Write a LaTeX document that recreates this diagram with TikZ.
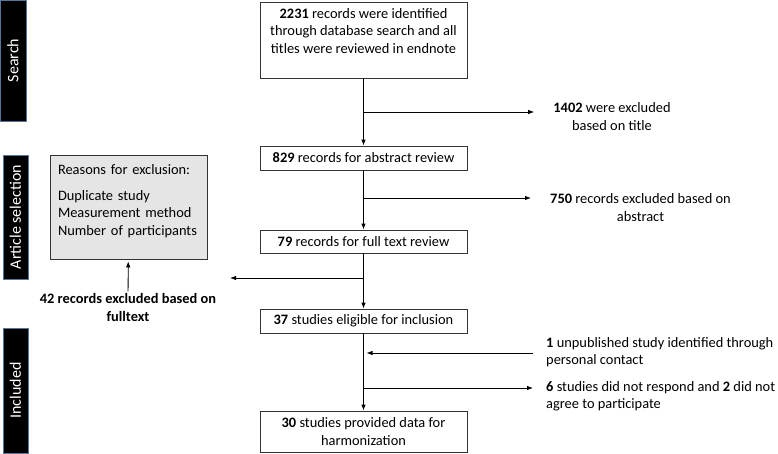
\documentclass[tikz,border=0pt]{standalone}
\usepackage{fontspec}
\setmainfont{Carlito}
\usetikzlibrary{arrows.meta}
\definecolor{barblue}{RGB}{84,118,156}

\begin{document}
\begin{tikzpicture}[x=1pt,y=-1pt,
    font=\fontsize{14.4}{17.5}\selectfont,
    box/.style={draw=black!80,line width=0.8pt,fill=white,minimum width=207pt,inner xsep=8pt,align=center},
    phase/.style={draw=barblue,line width=1pt,fill=black,text=white,rotate=90,font=\fontsize{16}{19}\selectfont},
    note/.style={inner sep=2pt},
    arr/.style={line width=0.8pt,-{Latex[length=6pt,width=4.5pt]}}]

    \useasboundingbox (0,0) rectangle (778,453);

    % Phases
    \node[phase,minimum width=121pt,minimum height=26pt] (search) at (13,60.5) {Search};
    \node[phase,minimum width=124pt,minimum height=25pt] (selection) at (15.5,217) {Article selection};
    \node[phase,minimum width=125pt,minimum height=25pt] (included) at (15.5,390.5) {Included};

    % Main boxes
    \node[box,minimum height=76pt] (records) at (363.5,40) {\textbf{2231} records were identified\\through database search and all\\titles were reviewed in endnote\\[-4pt]\strut};
    \node[box,minimum height=24pt] (abstract) at (363.5,158) {\textbf{829} records for abstract review};
    \node[box,minimum height=23pt] (fulltext) at (363.5,241.5) {\textbf{79} records for full text review};
    \node[box,minimum height=24pt] (eligible) at (363.5,321) {\textbf{37} studies eligible for inclusion};
    \node[box,minimum height=41pt] (final) at (363.5,431.5) {\textbf{30} studies provided data for\\harmonization};

    % Reasons box
    \node[draw=black!80,line width=0.8pt,fill=gray!20,minimum width=157pt,minimum height=104pt,
          text width=141pt,inner xsep=8pt,align=left] (reasons) at (128.5,207)
      {Reasons for exclusion:\\[8pt]Duplicate study\\Measurement method\\Number of participants\\[-9pt]\strut};

    % Exclusions
    \node[note,align=center] (title) at (612,116.5) {\textbf{1402} were excluded\\based on title};
    \node[note,align=center] (abstr) at (640.5,207.5) {\textbf{750} records excluded based on\\abstract};
    \node[note,align=center,font=\fontsize{14.4}{17.5}\selectfont\bfseries] (full) at (128,307.5) {42 records excluded based on\\fulltext};
    \node[note,align=left,anchor=west] (contact) at (544,352) {\textbf{1} unpublished study identified through\\personal contact};
    \node[note,align=left,anchor=west] (respond) at (544,396) {\textbf{6} studies did not respond and \textbf{2} did not\\agree to participate};

    % ---- Connectors ----
    \coordinate (j1) at (363.5,112);
    \coordinate (j2) at (363.5,198);
    \coordinate (j3) at (363.5,278);
    \coordinate (k3) at (230,278);
    \coordinate (j4) at (363.5,353);
    \coordinate (j5) at (363.5,388);

    \draw[arr] (records) -- (abstract);
    \draw[arr] (abstract) -- (fulltext);
    \draw[arr] (fulltext) -- (eligible);
    \draw[arr] (eligible) -- (final);

    \draw[arr,shorten >=17pt] (j1) -- (j1 -| title.west);
    \draw[arr,shorten >=17pt] (j2) -- (j2 -| abstr.west);
    \draw[arr] (j3) -- (k3);
    \draw[arr,shorten >=2pt] (full) -- (reasons);
    \draw[arr,shorten <=11pt,shorten >=3pt] (j4 -| contact.west) -- (j4);
    \draw[arr,shorten >=11pt] (j5) -- (j5 -| respond.west);

\end{tikzpicture}
\end{document}
